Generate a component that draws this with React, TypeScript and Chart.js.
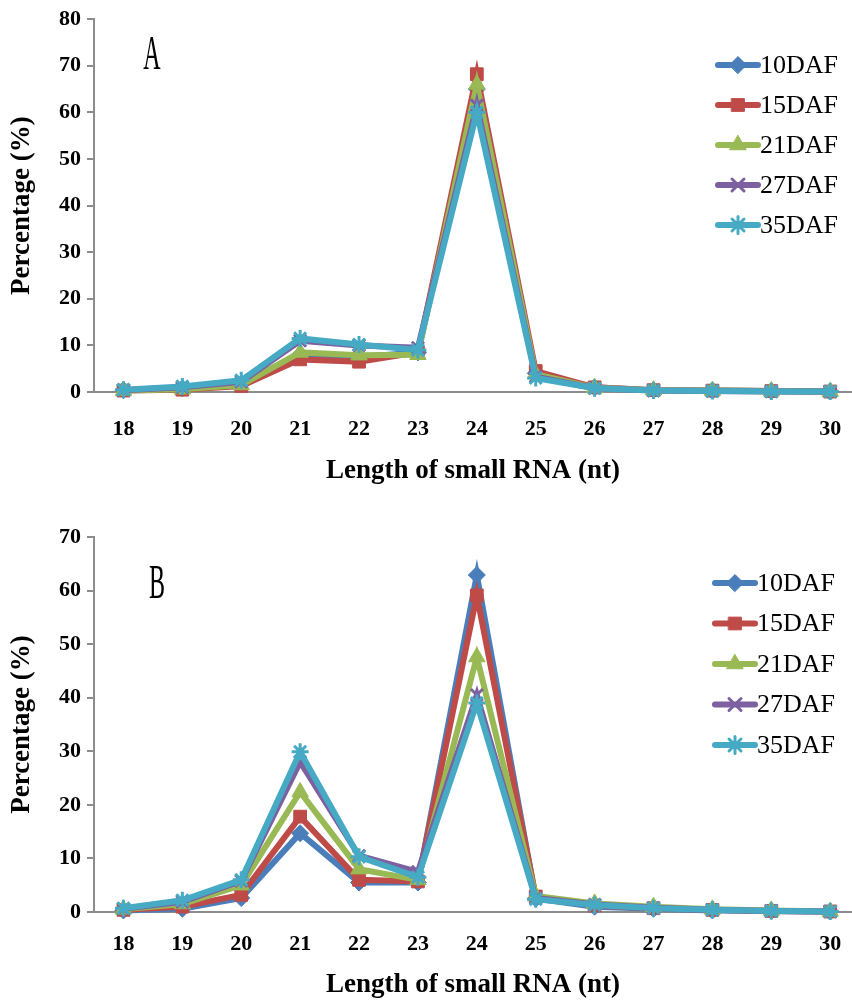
import React, { useEffect, useRef } from 'react';
import { Chart, registerables } from 'chart.js';
import { drawPoint } from 'chart.js/helpers';

Chart.register(...registerables);

// ---- data ----
const lengths = [18, 19, 20, 21, 22, 23, 24, 25, 26, 27, 28, 29, 30];
const seriesLabels = ['10DAF', '15DAF', '21DAF', '27DAF', '35DAF'];

const panelA10 = [0.4, 0.8, 1.8, 8.0, 7.5, 8.5, 65.0, 4.0, 1.0, 0.4, 0.3, 0.2, 0.1];
const panelA15 = [0.3, 0.5, 1.3, 7.0, 6.5, 8.5, 68.2, 4.5, 1.0, 0.4, 0.3, 0.2, 0.1];
const panelA21 = [0.3, 0.6, 1.5, 8.5, 7.9, 8.0, 66.0, 3.8, 0.9, 0.4, 0.3, 0.2, 0.1];
const panelA27 = [0.4, 1.0, 2.2, 11.0, 10.0, 9.5, 61.5, 3.3, 0.8, 0.3, 0.2, 0.1, 0.1];
const panelA35 = [0.5, 1.2, 2.5, 11.5, 10.2, 9.0, 60.0, 3.0, 0.8, 0.3, 0.2, 0.1, 0.1];

const panelB10 = [0.3, 0.6, 2.6, 14.7, 5.5, 5.5, 62.9, 2.5, 1.0, 0.6, 0.3, 0.2, 0.1];
const panelB15 = [0.4, 1.0, 3.2, 17.8, 6.0, 5.7, 59.1, 2.9, 1.2, 0.7, 0.4, 0.2, 0.1];
const panelB21 = [0.5, 1.5, 5.0, 22.4, 8.0, 6.0, 47.6, 3.0, 1.6, 1.0, 0.5, 0.3, 0.1];
const panelB27 = [0.6, 1.9, 5.8, 28.0, 10.5, 7.5, 40.5, 2.6, 1.4, 0.8, 0.4, 0.2, 0.1];
const panelB35 = [0.7, 2.2, 6.0, 29.9, 10.3, 6.5, 39.0, 2.4, 1.3, 0.7, 0.4, 0.2, 0.1];

const panelAMaxY = 80;
const panelBMaxY = 70;
const yStep = 10;
const xTitle = 'Length of small RNA (nt)';
const yTitle = 'Percentage (%)';

// ---- styles ----
const colors = ['#4A7EBB', '#BE4B48', '#98B954', '#7D60A0', '#46AAC5'];
const pointStyles = ['rectRot', 'rect', 'triangle', 'crossRot', 'star'];
const pointRadii = [8.5, 9, 9.5, 8.5, 8.5];
const axisColor = '#8C8C8C';
const serif = '"Liberation Serif", "Times New Roman", serif';

const panelDecor = {
  id: 'panelDecor',
  afterDraw(chart: any, _args: any, opts: any) {
    const ctx = chart.ctx;
    ctx.save();
    ctx.fillStyle = '#000';
    ctx.font = `48px ${serif}`;
    ctx.textAlign = 'center';
    ctx.textBaseline = 'middle';
    ctx.translate(opts.letterX, opts.letterY);
    ctx.scale(0.5, 1);
    ctx.fillText(opts.letter, 0, 0);
    ctx.restore();

    ctx.save();
    chart.data.datasets.forEach((ds: any, i: number) => {
      const y = opts.legendY + i * opts.legendDy;
      ctx.strokeStyle = ds.borderColor;
      ctx.lineWidth = 6;
      ctx.lineCap = 'round';
      ctx.beginPath();
      ctx.moveTo(opts.legendX, y);
      ctx.lineTo(opts.legendX + 40, y);
      ctx.stroke();
      ctx.fillStyle = ds.pointBackgroundColor;
      ctx.strokeStyle = ds.pointBorderColor;
      ctx.lineWidth = ds.pointBorderWidth;
      drawPoint(ctx, { pointStyle: ds.pointStyle, radius: ds.pointRadius, borderWidth: ds.pointBorderWidth, rotation: 0 } as any, opts.legendX + 20, y);
      ctx.fillStyle = '#000';
      ctx.font = `26px ${serif}`;
      ctx.textAlign = 'left';
      ctx.textBaseline = 'middle';
      ctx.fillText(ds.label, opts.legendX + 42, y + 1);
    });
    ctx.restore();
  },
};

function makeConfig(series: number[][], maxY: number, p: any) {
  const datasets = series.map((vals, i) => ({
    label: seriesLabels[i],
    data: lengths.map((x, j) => ({ x, y: vals[j] })),
    borderColor: colors[i],
    backgroundColor: colors[i],
    pointBackgroundColor: colors[i],
    pointBorderColor: colors[i],
    pointBorderWidth: i >= 3 ? 3 : 1,
    pointStyle: pointStyles[i],
    pointRadius: pointRadii[i],
    borderWidth: 6,
    tension: 0,
    order: series.length - i,
    clip: false as any,
  }));
  return {
    type: 'line' as const,
    data: { datasets },
    options: {
      responsive: false,
      animation: false as const,
      devicePixelRatio: 1,
      layout: { autoPadding: false, padding: { top: p.padTop, bottom: p.padBottom, left: 0, right: 0 } },
      plugins: {
        legend: { display: false },
        tooltip: { enabled: false },
        panelDecor: p.decor,
      },
      scales: {
        x: {
          type: 'linear' as const,
          min: 17.5,
          max: 30.37,
          afterBuildTicks: (scale: any) => {
            scale.ticks = lengths.map((v) => ({ value: v }));
          },
          afterFit: (scale: any) => {
            scale.height = p.xHeight;
            scale.paddingLeft = 0;
            scale.paddingRight = 0;
          },
          grid: { display: false },
          border: { display: true, color: axisColor, width: 2 },
          ticks: {
            color: '#000',
            padding: p.xTickPad,
            maxRotation: 0,
            autoSkip: false,
            font: { family: serif, size: 22, weight: 'bold' as const },
            callback: (v: any) => String(v),
          },
          title: {
            display: true,
            text: xTitle,
            color: '#000',
            padding: { top: 0, bottom: 0 },
            font: { family: serif, size: 27, weight: 'bold' as const },
          },
        },
        y: {
          min: 0,
          max: maxY,
          afterFit: (scale: any) => {
            scale.width = 94;
          },
          ticks: {
            stepSize: yStep,
            color: '#000',
            padding: 6,
            font: { family: serif, size: 22, weight: 'bold' as const },
          },
          grid: { drawOnChartArea: false, drawTicks: true, tickLength: 7, color: axisColor, lineWidth: 2 },
          border: { display: true, color: axisColor, width: 2 },
          title: {
            display: true,
            text: yTitle,
            color: '#000',
            padding: { top: 6, bottom: 0 },
            font: { family: serif, size: 27, weight: 'bold' as const },
          },
        },
      },
    },
    plugins: [panelDecor],
  };
}

function Panel({ series, maxY, p, top, height }: any) {
  const ref = useRef<HTMLCanvasElement>(null);
  useEffect(() => {
    const chart = new Chart(ref.current as HTMLCanvasElement, makeConfig(series, maxY, p) as any);
    return () => chart.destroy();
  }, []);
  return (
    <canvas
      ref={ref}
      width={852}
      height={height}
      style={{ position: 'absolute', left: 0, top, width: 852, height }}
    />
  );
}

export default function App() {
  return (
    <div style={{ position: 'absolute', left: 0, top: 0, width: 852, height: 1004, background: '#fff', overflow: 'hidden' }}>
      <Panel
        series={[panelA10, panelA15, panelA21, panelA27, panelA35]}
        maxY={panelAMaxY}
        top={0}
        height={500}
        p={{
          padTop: 17,
          padBottom: 13,
          xHeight: 95,
          xTickPad: 16,
          decor: { letter: 'A', letterX: 152, letterY: 56, legendX: 718, legendY: 65, legendDy: 40 },
        }}
      />
      <Panel
        series={[panelB10, panelB15, panelB21, panelB27, panelB35]}
        maxY={panelBMaxY}
        top={505}
        height={499}
        p={{
          padTop: 32,
          padBottom: 3,
          xHeight: 89,
          xTickPad: 11,
          decor: { letter: 'B', letterX: 157, letterY: 80, legendX: 715, legendY: 78, legendDy: 40.5 },
        }}
      />
    </div>
  );
}
